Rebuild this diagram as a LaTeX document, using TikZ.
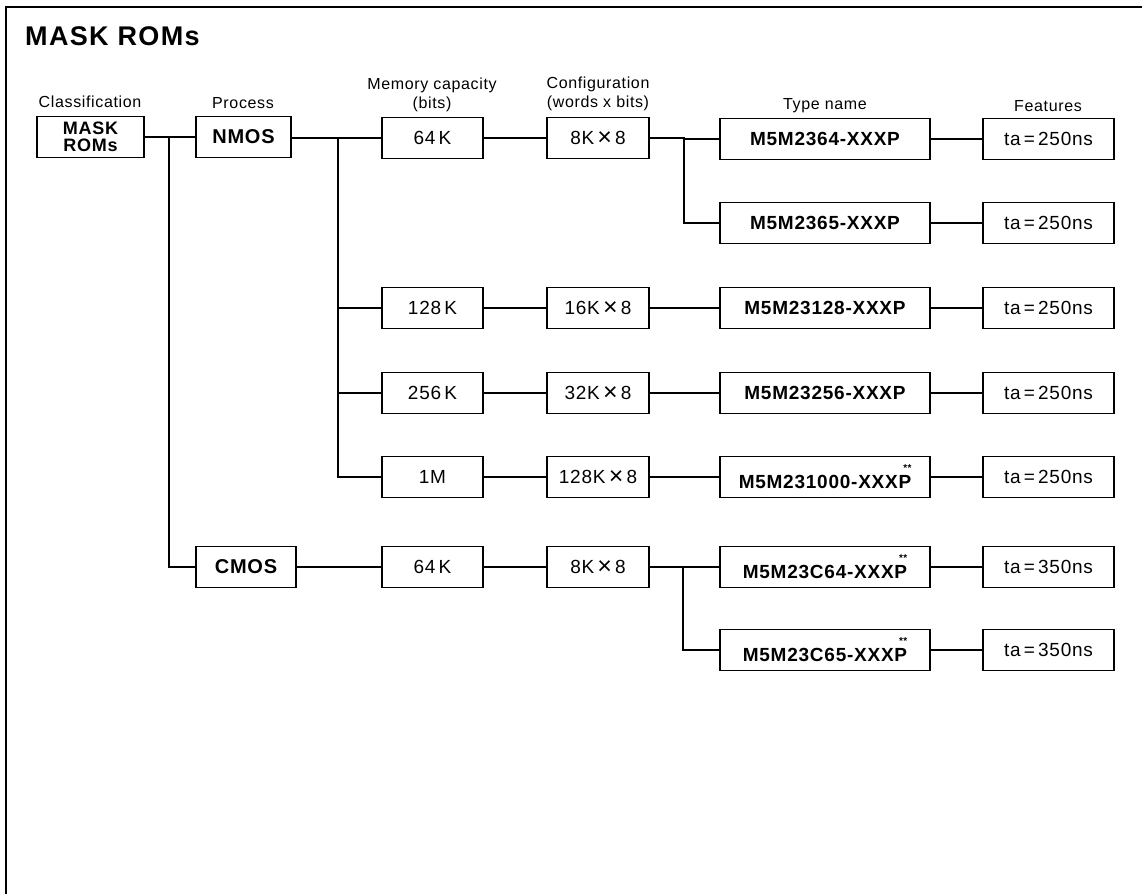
\documentclass[tikz,border=0pt]{standalone}
\usepackage{fontspec}
\setmainfont{Liberation Sans}
\newfontfamily\hv[LetterSpace=4]{Liberation Sans}
\newfontfamily\hvt[LetterSpace=5]{Liberation Sans}
\newcommand{\astx}{\makebox[0pt][l]{\hspace{-0.42em}\raisebox{0.9em}{\fontsize{10}{10}\selectfont **}}}
\newcommand{\bigx}{\,{\fontsize{25}{19}\selectfont\raisebox{-0.04em}{×}}\,}
\tikzset{
  box/.style={draw, line width=1.4pt, minimum height=41pt, inner sep=0pt, align=center},
  head/.style={font=\hv\fontsize{16}{19}\selectfont, align=center, inner sep=0pt},
  bnode/.style={box, font=\hv\bfseries\fontsize{19}{19}\selectfont},
  rnode/.style={box, font=\hv\fontsize{19}{19}\selectfont},
  capbox/.style={rnode, minimum width=101pt},
  cfgbox/.style={rnode, minimum width=102pt},
  typebox/.style={bnode, minimum width=210pt},
  featbox/.style={rnode, minimum width=131pt},
  wire/.style={line width=1.5pt}
}
\begin{document}
\begin{tikzpicture}[x=1pt,y=-1pt]
\useasboundingbox (0,0) rectangle (1142,894);
\draw[line width=2pt] (6,894) -- (6,7) -- (1142,7);
\node[anchor=base west, inner sep=0pt, font=\hvt\bfseries\fontsize{27}{27}\selectfont] (title) at (25,45) {MASK ROMs};
% headers
\node[head, anchor=base] (hcls) at (90,107) {Classification};
\node[head, anchor=base] (hproc) at (243,108) {Process};
\node[head, anchor=base] (hcap) at (432,108) {Memory capacity\\(bits)};
\node[head, anchor=base] (hcfg) at (598,107) {Configuration\\(words x bits)};
\node[head, anchor=base] (htype) at (825,109) {Type name};
\node[head, anchor=base] (hfeat) at (1048,111) {Features};
% classification and process
\node[bnode, minimum width=107pt, font=\hv\bfseries\fontsize{18}{17.5}\selectfont] (mask) at (90.5,137) {MASK\\ROMs};
\node[bnode, minimum width=95pt, font=\hv\bfseries\fontsize{20}{20}\selectfont] (nmos) at (243.5,137) {NMOS};
\node[bnode, minimum width=100pt, font=\hv\bfseries\fontsize{20}{20}\selectfont] (cmos) at (246,567) {CMOS};
% capacity
\node[capbox] (c1) at (432.5,138) {64\,K};
\node[capbox] (c2) at (432.5,308) {128\,K};
\node[capbox] (c3) at (432.5,393) {256\,K};
\node[capbox] (c4) at (432.5,477) {1M};
\node[capbox] (c5) at (432.5,567) {64\,K};
% configuration
\node[cfgbox] (g1) at (598,138) {8K\bigx 8};
\node[cfgbox] (g2) at (598,308) {16K\bigx 8};
\node[cfgbox] (g3) at (598,393) {32K\bigx 8};
\node[cfgbox] (g4) at (598,477) {128K\bigx 8};
\node[cfgbox] (g5) at (598,567) {8K\bigx 8};
% type names
\node[typebox] (t1) at (825,139) {M5M2364-XXXP};
\node[typebox] (t2) at (825,223) {M5M2365-XXXP};
\node[typebox] (t3) at (825,308) {M5M23128-XXXP};
\node[typebox] (t4) at (825,393) {M5M23256-XXXP};
\node[typebox] (t5) at (825,477) {M5M231000-XXXP\astx};
\node[typebox] (t6) at (825,567) {M5M23C64-XXXP\astx};
\node[typebox] (t7) at (825,650) {M5M23C65-XXXP\astx};
% features
\node[featbox] (f1) at (1048.5,139) {ta\,=\,250ns};
\node[featbox] (f2) at (1048.5,223) {ta\,=\,250ns};
\node[featbox] (f3) at (1048.5,308) {ta\,=\,250ns};
\node[featbox] (f4) at (1048.5,393) {ta\,=\,250ns};
\node[featbox] (f5) at (1048.5,477) {ta\,=\,250ns};
\node[featbox] (f6) at (1048.5,567) {ta\,=\,350ns};
\node[featbox] (f7) at (1048.5,650) {ta\,=\,350ns};
% junction coordinates
\coordinate (jA) at (169,137);
\coordinate (jB) at (338,138);
\coordinate (jC) at (684,138);
\coordinate (jD) at (683,567);
% connectors
\draw[wire] (mask.east) -- (nmos.west);
\draw[wire] (jA) |- (cmos.west);
\draw[wire] (nmos.east |- jB) -- (c1.west);
\draw[wire] (jB) |- (c4.west);
\draw[wire] (jB |- c2.west) -- (c2.west);
\draw[wire] (jB |- c3.west) -- (c3.west);
\draw[wire] (cmos.east) -- (c5.west);
\foreach \i in {1,...,5} { \draw[wire] (c\i.east) -- (g\i.west); }
\draw[wire] (g1.east) -- (jC) -- (jC |- t1.west) -- (t1.west);
\draw[wire] (jC) |- (t2.west);
\draw[wire] (g2.east) -- (t3.west);
\draw[wire] (g3.east) -- (t4.west);
\draw[wire] (g4.east) -- (t5.west);
\draw[wire] (g5.east) -- (jD) -- (t6.west);
\draw[wire] (jD) |- (t7.west);
\foreach \i in {1,...,7} { \draw[wire] (t\i.east) -- (f\i.west); }
\end{tikzpicture}
\end{document}
